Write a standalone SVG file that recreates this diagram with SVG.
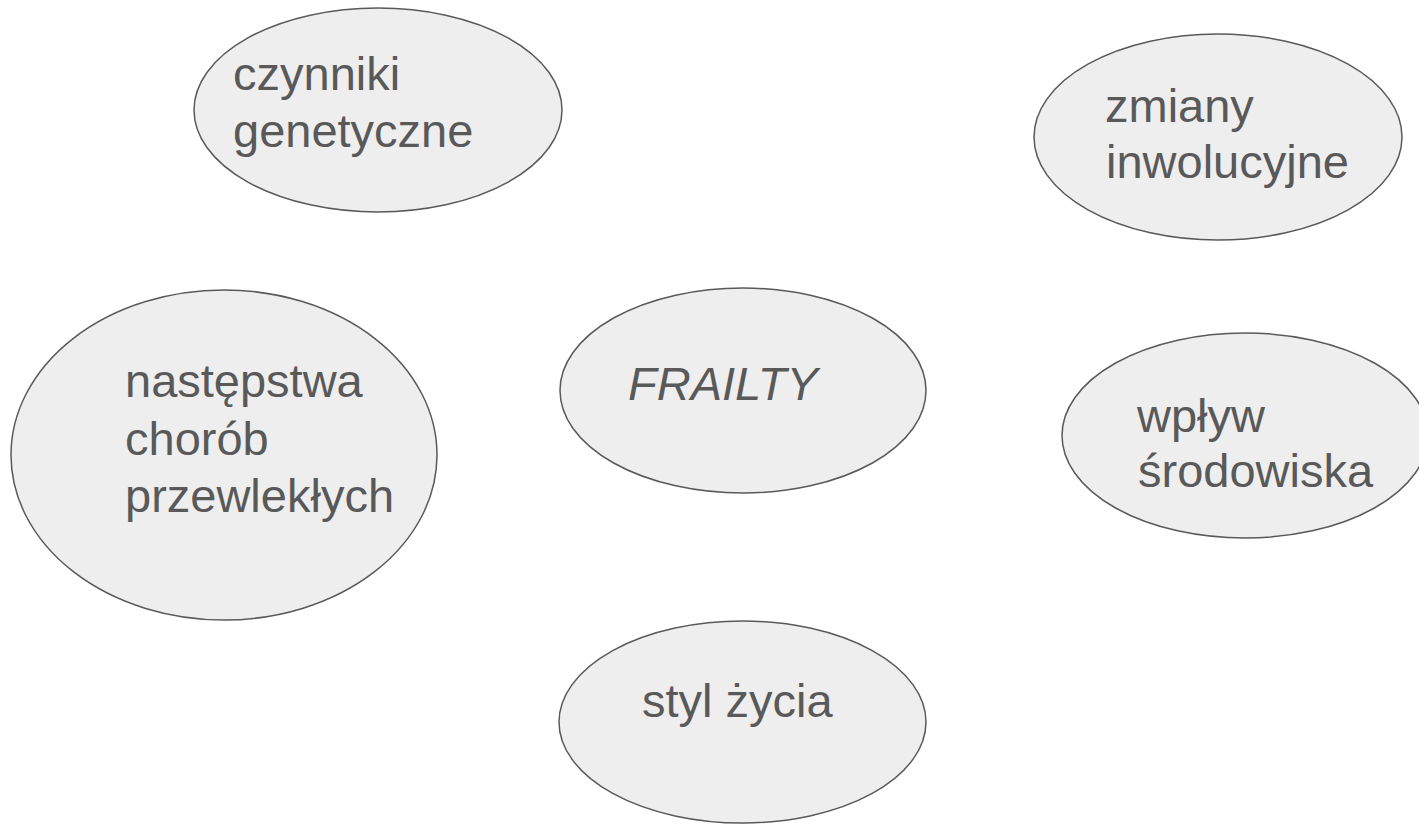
<svg xmlns="http://www.w3.org/2000/svg" width="1419" height="824" viewBox="0 0 1419 824">
  <style>
    .node ellipse { fill: #eeeeee; stroke: #595959; stroke-width: 1.5; }
    .node text { font-family: "Liberation Sans", Arial, sans-serif; font-size: 47px; fill: #595959; }
    .node text.it { font-style: italic; }
  </style>
  <rect width="1419" height="824" fill="#ffffff"/>
  <g id="connectors"></g>
  <g id="czynniki-genetyczne" class="node">
    <ellipse cx="378" cy="110" rx="184" ry="102"/>
    <text x="233" y="90">czynniki</text>
    <text x="233" y="147">genetyczne</text>
  </g>
  <g id="zmiany-inwolucyjne" class="node">
    <ellipse cx="1218" cy="137" rx="184" ry="103"/>
    <text x="1105" y="122">zmiany</text>
    <text x="1106" y="178">inwolucyjne</text>
  </g>
  <g id="nastepstwa-chorob" class="node">
    <ellipse cx="224" cy="455" rx="213" ry="165"/>
    <text x="125" y="397">następstwa</text>
    <text x="125" y="455">chorób</text>
    <text x="125" y="512">przewlekłych</text>
  </g>
  <g id="frailty" class="node">
    <ellipse cx="743" cy="390.5" rx="183" ry="102.5"/>
    <text class="it" x="628" y="400">FRAILTY</text>
  </g>
  <g id="wplyw-srodowiska" class="node">
    <ellipse cx="1245" cy="435.5" rx="183" ry="102.5"/>
    <text x="1137" y="432">wpływ</text>
    <text x="1138" y="487">środowiska</text>
  </g>
  <g id="styl-zycia" class="node">
    <ellipse cx="742.5" cy="722" rx="183.5" ry="101"/>
    <text x="642" y="717">styl życia</text>
  </g>
</svg>
